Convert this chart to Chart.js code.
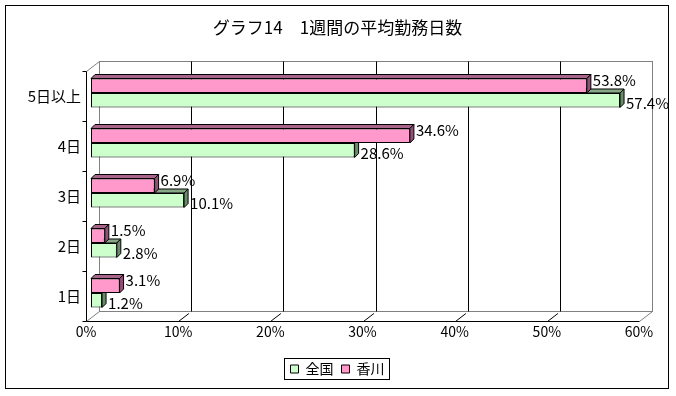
<!DOCTYPE html>
<html lang="ja">
<head>
<meta charset="utf-8">
<title>グラフ14 1週間の平均勤務日数</title>
<script src="https://cdn.jsdelivr.net/npm/chart.js@4.4.1/dist/chart.umd.min.js"></script>
<style>
  html, body { margin: 0; padding: 0; background: #fff; }
  #wrap { width: 676px; height: 396px; }
</style>
</head>
<body>
<div id="wrap"><canvas id="chart" width="676" height="396"></canvas></div>
<script>
// Data
const categories = ['5日以上', '4日', '3日', '2日', '1日'];
const kagawa = [53.8, 34.6, 6.9, 1.5, 3.1];
const zenkoku = [57.4, 28.6, 10.1, 2.8, 1.2];
const xTicks = [0, 10, 20, 30, 40, 50, 60];

// 3D look
const wallShift = { x: 13, y: -10 }; // back wall relative to the front plane
const barShift = { x: 5, y: -3 };    // bars sit a little into the box
const barDepth = { x: 4, y: -4 };
const FONT = "'Noto Sans CJK JP', 'Noto Sans', sans-serif";

Chart.defaults.font.family = FONT;
Chart.defaults.color = '#000';

function line(ctx, x1, y1, x2, y2) {
  ctx.beginPath();
  ctx.moveTo(x1, y1);
  ctx.lineTo(x2, y2);
  ctx.stroke();
}

function poly(ctx, pts, fill) {
  ctx.beginPath();
  ctx.moveTo(pts[0][0], pts[0][1]);
  pts.slice(1).forEach((p) => ctx.lineTo(p[0], p[1]));
  ctx.closePath();
  ctx.fillStyle = fill;
  ctx.fill();
  ctx.stroke();
}

const box3d = {
  id: 'box3d',
  beforeDraw(chart) {
    const ctx = chart.ctx;
    ctx.save();
    ctx.fillStyle = '#fff';
    ctx.fillRect(0, 0, chart.width, chart.height);
    ctx.strokeStyle = '#000';
    ctx.lineWidth = 1;
    ctx.strokeRect(5.5, 5.5, 663, 383);
    ctx.restore();
  },
  beforeDatasetsDraw(chart) {
    const { ctx, chartArea: a, scales } = chart;
    const dx = wallShift.x, dy = wallShift.y;
    const L = Math.round(a.left) + 0.5, R = Math.round(a.right) + 0.5;
    const T = Math.round(a.top) + 0.5, B = Math.round(a.bottom) + 0.5;
    ctx.save();
    ctx.lineWidth = 1;

    // back wall + floor / side edges
    ctx.strokeStyle = '#808080';
    ctx.strokeRect(L + dx, T + dy, R - L, B - T);
    line(ctx, L, T, L + dx, T + dy);
    line(ctx, L, B, L + dx, B + dy);
    line(ctx, R, B, R + dx, B + dy);

    // grid lines on the back wall and their floor ticks
    ctx.strokeStyle = '#000';
    xTicks.slice(1, -1).forEach((v) => {
      const px = Math.round(scales.x.getPixelForValue(v)) + 0.5;
      line(ctx, px + dx, T + dy, px + dx, B + dy);
      line(ctx, px, B, px + dx * 0.8, B + dy * 0.8);
    });

    // front axes
    line(ctx, L, T, L, B);
    line(ctx, L, B, R, B);
    for (let i = 0; i <= categories.length; i++) {
      const py = Math.round(scales.y.getPixelForValue(i - 0.5)) + 0.5;
      line(ctx, L - 4, py, L, py);
    }
    ctx.restore();

    ctx.save();
    ctx.translate(barShift.x, barShift.y);
  },
  afterDatasetDraw(chart, args) {
    const ctx = chart.ctx;
    const ds = chart.data.datasets[args.index];
    ctx.save();
    ctx.strokeStyle = '#000';
    ctx.lineWidth = 1;
    ctx.lineJoin = 'miter';
    args.meta.data.forEach((bar) => {
      const top = bar.y - bar.height / 2;
      const bottom = bar.y + bar.height / 2;
      const left = bar.base, right = bar.x;
      const ddx = barDepth.x, ddy = barDepth.y;
      poly(ctx, [[left, top], [left + ddx, top + ddy], [right + ddx, top + ddy], [right, top]], ds.topColor);
      poly(ctx, [[right, top], [right + ddx, top + ddy], [right + ddx, bottom + ddy], [right, bottom]], ds.sideColor);
    });
    ctx.restore();
  },
  afterDatasetsDraw(chart) {
    const ctx = chart.ctx;
    ctx.font = '15px ' + FONT;
    ctx.fillStyle = '#000';
    ctx.textAlign = 'left';
    ctx.textBaseline = 'middle';
    chart.data.datasets.forEach((ds, di) => {
      const meta = chart.getDatasetMeta(di);
      meta.data.forEach((bar, i) => {
        ctx.fillText(ds.data[i].toFixed(1) + '%', bar.x + barDepth.x + 2, bar.y + ds.labelShift);
      });
    });
    ctx.restore();
  },
  afterDraw(chart) {
    const hb = chart.legend.legendHitBoxes;
    if (!hb || !hb.length) return;
    const ctx = chart.ctx;
    const first = hb[0], last = hb[hb.length - 1];
    const x1 = Math.round(first.left) - 6.5;
    const x2 = Math.round(last.left + last.width) + 5.5;
    const y1 = Math.round(first.top) - 3.5;
    const y2 = Math.round(first.top + first.height) + 3.5;
    ctx.save();
    ctx.strokeStyle = '#000';
    ctx.lineWidth = 1;
    ctx.strokeRect(x1, y1, x2 - x1, y2 - y1);
    ctx.restore();
  },
};

new Chart(document.getElementById('chart'), {
  type: 'bar',
  data: {
    labels: categories,
    datasets: [
      {
        label: '香川',
        data: kagawa,
        backgroundColor: '#FF99CC',
        borderColor: '#000',
        borderWidth: 1,
        borderSkipped: false,
        topColor: '#A8648A',
        sideColor: '#8E5276',
        labelShift: -5,
      },
      {
        label: '全国',
        data: zenkoku,
        backgroundColor: '#CCFFCC',
        borderColor: '#000',
        borderWidth: 1,
        borderSkipped: false,
        topColor: '#86A886',
        sideColor: '#6A8C6A',
        labelShift: 3,
      },
    ],
  },
  options: {
    indexAxis: 'y',
    responsive: false,
    animation: false,
    clip: false,
    categoryPercentage: 0.58,
    barPercentage: 1.0,
    layout: { padding: { left: 18, right: 19, top: 0, bottom: 10 } },
    scales: {
      x: {
        min: 0,
        max: 60,
        afterBuildTicks: (scale) => {
          scale.ticks = xTicks.map((v) => ({ value: v }));
        },
        afterFit: (scale) => {
          scale.height = 33;
        },
        grid: { display: false, drawTicks: false },
        border: { display: false },
        ticks: {
          padding: 2,
          font: { size: 14 },
          callback: (v) => v + '%',
        },
      },
      y: {
        afterFit: (scale) => {
          scale.width = 68;
        },
        grid: { display: false, drawTicks: false },
        border: { display: false },
        ticks: { padding: 5, font: { size: 15 } },
      },
      // empty strip on the right so the plot box ends where the reference does
      yRight: {
        type: 'linear',
        position: 'right',
        afterFit: (scale) => {
          scale.width = 18;
        },
        grid: { display: false, drawTicks: false },
        border: { display: false },
        ticks: { display: false },
      },
    },
    plugins: {
      title: {
        display: true,
        text: 'グラフ14　1週間の平均勤務日数',
        font: { size: 17, weight: 'normal', lineHeight: 1.2 },
        padding: { top: 17, bottom: 33.6 },
      },
      legend: {
        position: 'bottom',
        labels: {
          boxWidth: 8,
          boxHeight: 8,
          padding: 8,
          font: { size: 14 },
          sort: (a, b) => b.datasetIndex - a.datasetIndex,
        },
      },
      tooltip: { enabled: false },
    },
  },
  plugins: [box3d],
});
</script>
</body>
</html>
